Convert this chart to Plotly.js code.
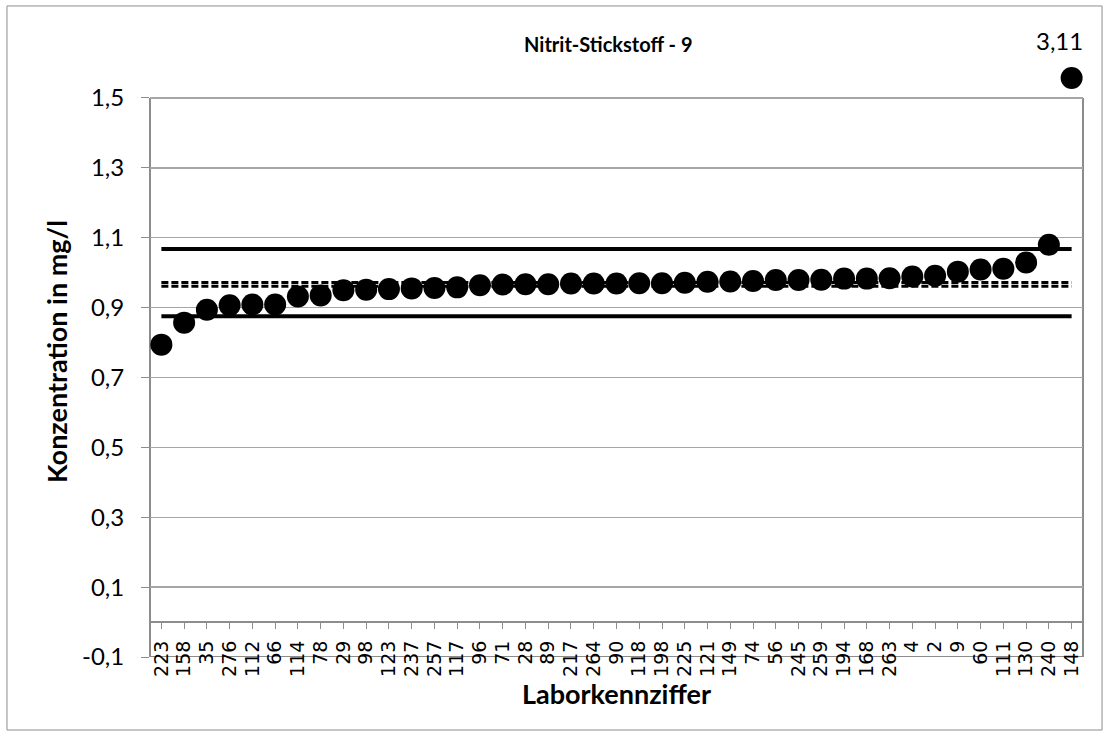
<!DOCTYPE html>
<html>
<head>
<meta charset="utf-8">
<script src="https://cdn.plot.ly/plotly-3.0.1.min.js"></script>
<style>
html,body{margin:0;padding:0;background:#fff;}
#chart{width:1108px;height:736px;}
</style>
</head>
<body>
<div id="chart"></div>
<script>
// Laborkennziffern (x categories), in plotted order
const labs = ['223','158','35','276','112','66','114','78','29','98','123','237','257','117','96','71','28','89','217','264','90','118','198','225','121','149','74','56','245','259','194','168','263','4','2','9','60','111','130','240','148'];
// Measured concentrations in mg/l
const values = [0.794,0.857,0.894,0.907,0.909,0.909,0.932,0.935,0.950,0.951,0.953,0.955,0.956,0.958,0.964,0.966,0.967,0.967,0.969,0.969,0.969,0.970,0.970,0.971,0.974,0.975,0.976,0.979,0.979,0.980,0.983,0.983,0.984,0.989,0.991,1.003,1.009,1.011,1.029,1.080,3.11];
// Reference lines
const upperLimit = 1.068;
const lowerLimit = 0.875;
const assignedValue = 0.972;
const meanValue = 0.961;
// Off-scale value: shown just above the axis top, labelled with its real value
const outlierIndex = 40;
const outlierShownAt = 1.557;
const yTicks = [-0.1,0.1,0.3,0.5,0.7,0.9,1.1,1.3,1.5];
const yMin = -0.1, yMax = 1.5, yTop = 1.6488;

const inRangeLabs = labs.filter((_, i) => i !== outlierIndex);
const inRangeVals = values.filter((_, i) => i !== outlierIndex);
const fmt = v => String(v).replace('.', ',');

const lineTrace = (yv, dash, w) => ({
  type: 'scatter', mode: 'lines', x: labs, y: labs.map(() => yv),
  line: {color: '#000', width: w, dash: dash}, hoverinfo: 'skip'
});

const traces = [
  lineTrace(upperLimit, 'solid', 4),
  lineTrace(lowerLimit, 'solid', 4),
  lineTrace(assignedValue, '7px,3px', 3),
  lineTrace(meanValue, '7px,3px', 3),
  {
    type: 'scatter', mode: 'markers', x: inRangeLabs, y: inRangeVals,
    marker: {color: '#000', size: 22}, cliponaxis: false
  },
  {
    type: 'scatter', mode: 'markers', x: [labs[outlierIndex]], y: [outlierShownAt],
    marker: {color: '#000', size: 22}, cliponaxis: false
  }
];

const axisGray = '#8c8c8c';
const layout = {
  width: 1108, height: 736,
  margin: {l: 150, r: 25, t: 46, b: 79},
  paper_bgcolor: '#fff', plot_bgcolor: '#fff',
  showlegend: false,
  separators: ',.',
  title: {
    text: '<b>Nitrit-Stickstoff - 9</b>',
    font: {family: 'Lato, sans-serif', size: 20, color: '#000'},
    x: 0.549, xanchor: 'center', y: 0.939, yanchor: 'middle'
  },
  annotations: [{
    x: outlierIndex, y: outlierShownAt, xref: 'x', yref: 'y',
    text: fmt(values[outlierIndex]), showarrow: false,
    xshift: -12, yshift: 38,
    font: {family: 'Lato, sans-serif', size: 24, color: '#000'}
  }],
  xaxis: {
    type: 'category', categoryorder: 'array', categoryarray: labs,
    anchor: 'free', position: (0 - yMin) / (yTop - yMin),
    tickmode: 'linear', tick0: 0, dtick: 1,
    showgrid: false, zeroline: false,
    showline: true, linecolor: axisGray, linewidth: 2,
    ticks: 'outside', ticklen: 6, tickcolor: axisGray, tickwidth: 1,
    ticklabelstandoff: 4,
    tickangle: -90,
    tickfont: {family: '"DejaVu Sans", sans-serif', size: 19, color: '#000'},
    title: {
      text: '<b>Laborkennziffer</b>',
      font: {family: 'Lato, sans-serif', size: 27, color: '#000'},
      standoff: 0
    },
    range: [-0.5, labs.length - 0.5],
    automargin: false
  },
  yaxis: {
    range: [yMin, yTop], tickmode: 'array', tickvals: yTicks,
    ticktext: yTicks.map(fmt),
    showgrid: true, gridcolor: '#a6a6a6', gridwidth: 1.3,
    zeroline: false, showline: false,
    ticks: 'outside', ticklen: 8, tickcolor: axisGray, tickwidth: 1,
    ticklabelstandoff: 12,
    tickfont: {family: 'Lato, sans-serif', size: 24, color: '#000'},
    title: {
      text: '<b>Konzentration in mg/l</b>',
      font: {family: 'Lato, sans-serif', size: 27, color: '#000'},
      standoff: 6
    },
    automargin: false
  },
  shapes: [
    {type: 'rect', xref: 'paper', yref: 'paper',
     x0: -0.1533, x1: 1.0204, y0: -0.1195, y1: 1.0655,
     line: {color: axisGray, width: 1}, fillcolor: 'rgba(0,0,0,0)', layer: 'below'},
    {type: 'line', xref: 'paper', yref: 'y', x0: 0, x1: 0, y0: yMin, y1: yMax,
     line: {color: axisGray, width: 2}, layer: 'below'},
    {type: 'line', xref: 'paper', yref: 'y', x0: 1, x1: 1, y0: yMin, y1: yMax,
     line: {color: axisGray, width: 2}, layer: 'below'},
    {type: 'line', xref: 'paper', yref: 'y', x0: 0, x1: 1, y0: yMin, y1: yMin,
     line: {color: axisGray, width: 2}, layer: 'below'}
  ]
};

Plotly.newPlot('chart', traces, layout, {displayModeBar: false, staticPlot: true});
</script>
</body>
</html>
